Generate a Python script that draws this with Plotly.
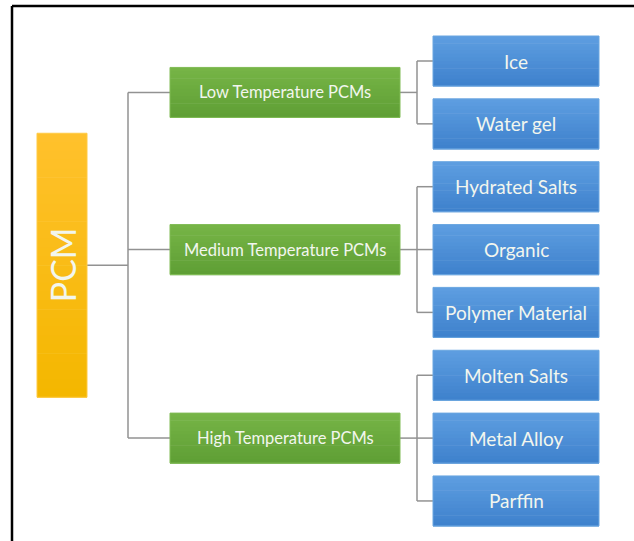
import plotly.graph_objects as go

# ---- data ----
root_label = "PCM"
group_labels = ["Low Temperature PCMs", "Medium Temperature PCMs", "High Temperature PCMs"]
children = [
    ["Ice", "Water gel"],
    ["Hydrated Salts", "Organic", "Polymer Material"],
    ["Molten Salts", "Metal Alloy", "Parffin"],
]

# ---- layout parameters ----
W, H = 634, 541
row0, row_step = 61, 62.85
box_h = 50
leaf_x0, leaf_x1 = 433, 599
grp_x0, grp_x1 = 170, 400
root_x0, root_x1 = 37, 87
root_h = 264
trunk_x = 128
bracket_x = 417
line_col = "#929292"

shapes = []
annotations = []


def hex_to_rgb(h):
    h = h.lstrip("#")
    return tuple(int(h[i:i + 2], 16) for i in (0, 2, 4))


def blend(c1, c2, t):
    a, b = hex_to_rgb(c1), hex_to_rgb(c2)
    return "rgb(%d,%d,%d)" % tuple(round(a[i] + (b[i] - a[i]) * t) for i in range(3))


def grad_box(x0, y0, x1, y1, ctop, cbot, edge, n=14):
    step = (y1 - y0) / n
    for i in range(n):
        shapes.append(dict(type="rect", xref="x", yref="y",
                           x0=x0, x1=x1, y0=y0 + i * step, y1=y0 + (i + 1) * step + 0.6,
                           fillcolor=blend(ctop, cbot, i / (n - 1)), line=dict(width=0), layer="above"))
    shapes.append(dict(type="rect", xref="x", yref="y", x0=x0, x1=x1, y0=y0, y1=y1,
                       fillcolor="rgba(0,0,0,0)", line=dict(color=edge, width=1), layer="above"))


def line(x0, y0, x1, y1):
    shapes.append(dict(type="line", xref="x", yref="y", x0=x0, y0=y0, x1=x1, y1=y1,
                       line=dict(color=line_col, width=1.5), layer="below"))


def label(x, y, text, size, angle=0):
    annotations.append(dict(x=x, y=y, xref="x", yref="y", text=text, showarrow=False,
                            textangle=angle, xanchor="center", yanchor="middle",
                            font=dict(family="Lato, Open Sans, sans-serif", size=size, color="#f2f6ee")))


# frame (top and left edges visible)
shapes.append(dict(type="line", xref="x", yref="y", x0=12, y0=6, x1=W + 5, y1=6,
                   line=dict(color="black", width=2.5)))
shapes.append(dict(type="line", xref="x", yref="y", x0=12, y0=6, x1=12, y1=H + 5,
                   line=dict(color="black", width=2.5)))

row = 0
group_centers = []
for g, kids in zip(group_labels, children):
    ys = []
    for k in kids:
        yc = row0 + row * row_step
        ys.append(yc)
        grad_box(leaf_x0, yc - box_h / 2, leaf_x1, yc + box_h / 2, "#5d9de0", "#3f82cd", "#6aa6e0")
        label((leaf_x0 + leaf_x1) / 2, yc, k, 19)
        line(bracket_x, yc, leaf_x0, yc)
        row += 1
    gy = (ys[0] + ys[-1]) / 2
    group_centers.append(gy)
    line(bracket_x, ys[0], bracket_x, ys[-1])
    line(grp_x1, gy, bracket_x, gy)
    grad_box(grp_x0, gy - box_h / 2, grp_x1, gy + box_h / 2, "#76b446", "#5f9f35", "#80bb55")
    label((grp_x0 + grp_x1) / 2, gy, g, 16.5)
    line(trunk_x, gy, grp_x0, gy)

line(trunk_x, group_centers[0], trunk_x, group_centers[-1])
ry = (group_centers[0] + group_centers[-1]) / 2
line(root_x1, ry, trunk_x, ry)
grad_box(root_x0, ry - root_h / 2, root_x1, ry + root_h / 2, "#ffc12c", "#f4b700", "#ffca45", n=30)
label((root_x0 + root_x1) / 2, ry, root_label, 34, angle=-90)

fig = go.Figure()
fig.update_layout(
    width=W, height=H,
    margin=dict(l=0, r=0, t=0, b=0),
    paper_bgcolor="white", plot_bgcolor="white",
    xaxis=dict(range=[0, W], visible=False, fixedrange=True),
    yaxis=dict(range=[H, 0], visible=False, fixedrange=True),
    shapes=shapes, annotations=annotations, showlegend=False,
)
fig.write_html(
    "out.html",
    config={"displayModeBar": False, "staticPlot": True},
    post_script="document.body.style.margin='0';document.body.style.overflow='hidden';",
)
